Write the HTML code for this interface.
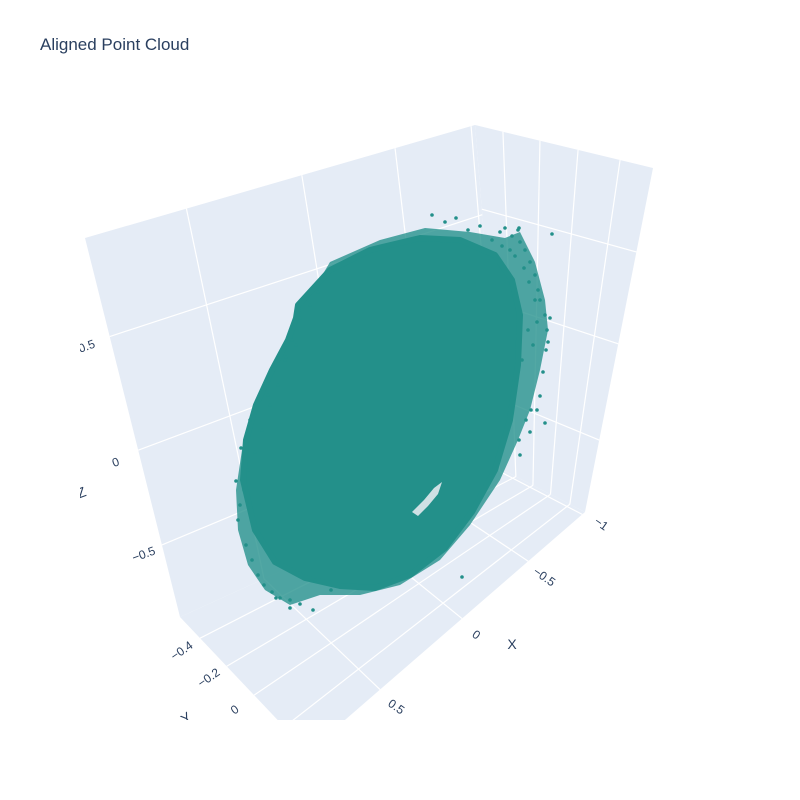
<!DOCTYPE html>
<html><head><meta charset="utf-8"><style>
body{margin:0;background:#fff}
svg{display:block;font-family:"Liberation Sans",sans-serif}
</style></head><body>
<svg width="800" height="800" viewBox="0 0 800 800">
<defs><clipPath id="sc"><rect x="80" y="0" width="720" height="720"/></clipPath></defs>
<text x="40" y="50" font-size="17" fill="#2a3f5f">Aligned Point Cloud</text>
<g id="scene" clip-path="url(#sc)"></g>
</svg>
<script>
// point cloud body outline (screen-projected samples)
const bodyX=[298,330,370,420,460,495,512,520,518,510,495,472,445,410,375,340,305,275,255,243,246,256,272,288,296];
const bodyY=[305,270,250,238,240,255,280,315,365,420,470,512,548,575,588,586,578,562,530,480,440,405,370,340,318];
// sparse fringe outline (lower density region)
const haloX=[330,380,425,470,505,520,535,545,548,540,530,518,500,470,440,400,360,320,290,265,248,238,236,242,255,270,290];
const haloY=[262,240,228,232,238,232,262,300,330,370,410,440,480,525,560,585,595,595,605,590,565,530,490,450,410,378,330];
const holeX=[412,424,434,442,438,428,418];
const holeY=[512,500,488,482,494,506,516];
const ptsX=[432,445,456,468,480,492,500,505,512,518,520,525,530,535,538,540,545,550,528,533,522,516,540,546,531,526,519,537,543,547,535,529,524,515,510,502,333,318,310,300,292,285,278,270,262,255,248,244,240,238,246,252,258,264,272,280,290,300,313,331,462,530,545,520,315,290,276,552,548,519,537,236,241,250,268,286,296];
const ptsY=[215,222,218,230,226,240,232,228,236,230,242,250,262,275,290,300,315,318,330,345,360,380,396,350,410,420,440,410,372,330,300,282,268,256,250,246,268,292,305,318,340,360,385,405,430,452,470,490,505,520,545,560,575,585,592,598,600,604,610,590,577,432,423,455,580,608,598,234,342,228,322,481,448,420,395,357,345];
const tickFmt=v=>String(v).replace('-','\u2212');
const xTicks=[-1,-0.5,0,0.5];
const yTicks=[-0.4,-0.2,0];
const zTicks=[0.5,0,-0.5];

const NS='http://www.w3.org/2000/svg';
const g=document.getElementById('scene');
function mk(t,a){const e=document.createElementNS(NS,t);for(const k in a)e.setAttribute(k,a[k]);g.appendChild(e);return e;}
const P=(x,y)=>[x,y];
const A=P(85,238),B=P(475,125),C=P(653,168),G=P(180,617),E=P(503,470),D=P(585,512),H=P(308,752);
const lerp=(p,q,t)=>[p[0]+(q[0]-p[0])*t,p[1]+(q[1]-p[1])*t];
const poly=pts=>pts.map(p=>p.join(',')).join(' ');
let e;
e=mk('polygon',{points:poly([A,B,E,G]),fill:'#e5ecf6'});


e=mk('polygon',{points:poly([B,C,D,E]),fill:'#e5ecf6'});


e=mk('polygon',{points:poly([G,E,D,H]),fill:'#e5ecf6'});


function line(p,q,name){const l=mk('line',{x1:p[0],y1:p[1],x2:q[0],y2:q[1],stroke:'#fff','stroke-width':1.2});

}
[0.26,0.556,0.795,0.99].forEach(f=>{const t=lerp(A,B,f),b=lerp(G,E,f),fr=lerp(H,D,f);line(t,b,'x-gridline');line(b,fr,'x-gridline');});
[0.157,0.365,0.579,0.815].forEach(f=>{const t=lerp(B,C,f),b=lerp(E,D,f),fr=lerp(G,H,f);line(t,b,'y-gridline');line(b,fr,'y-gridline');});
[0.26,0.56,0.81].forEach(f=>{line(lerp(A,G,f),lerp(B,E,f),'z-gridline');});
[0.244,0.511,0.791].forEach(f=>{line(lerp(B,E,f),lerp(C,D,f),'z-gridline');});
const col='#23908a';
e=mk('polygon',{points:haloX.map((x,i)=>x+','+haloY[i]).join(' '),fill:col,'fill-opacity':0.78,'stroke-linejoin':'round'});


e=mk('polygon',{points:bodyX.map((x,i)=>x+','+bodyY[i]).join(' '),fill:col,stroke:col,'stroke-width':6,'stroke-linejoin':'round'});


e=mk('polygon',{points:holeX.map((x,i)=>x+','+holeY[i]).join(' '),fill:'#cfe0e4'});


ptsX.forEach((x,i)=>{const c=mk('circle',{cx:x,cy:ptsY[i],r:1.8,fill:col});

});
function txt(x,y,s,rot,name,size){const t=mk('text',{x:x,y:y,'font-size':size||12,fill:'#2a3f5f','text-anchor':'middle',transform:`rotate(${rot} ${x} ${y})`});t.textContent=s;

}
const zPos=[[88,350],[117,466],[145,558]];
zTicks.forEach((v,i)=>txt(zPos[i][0],zPos[i][1],tickFmt(v),-20,'z-tick-label'));
const xPos=[[599,527],[542,580],[474,638],[394,710]];
xTicks.forEach((v,i)=>txt(xPos[i][0],xPos[i][1],tickFmt(v),35,'x-tick-label'));
const yPos=[[184,654],[211,681],[237,713]];
yTicks.forEach((v,i)=>txt(yPos[i][0],yPos[i][1],tickFmt(v),-35,'y-tick-label'));
txt(512,649,'X',0,'x-axis-title',14);
txt(83,497,'Z',-20,'z-axis-title',14);
txt(189,722,'Y',-35,'y-axis-title',14);
</script>
</body></html>
